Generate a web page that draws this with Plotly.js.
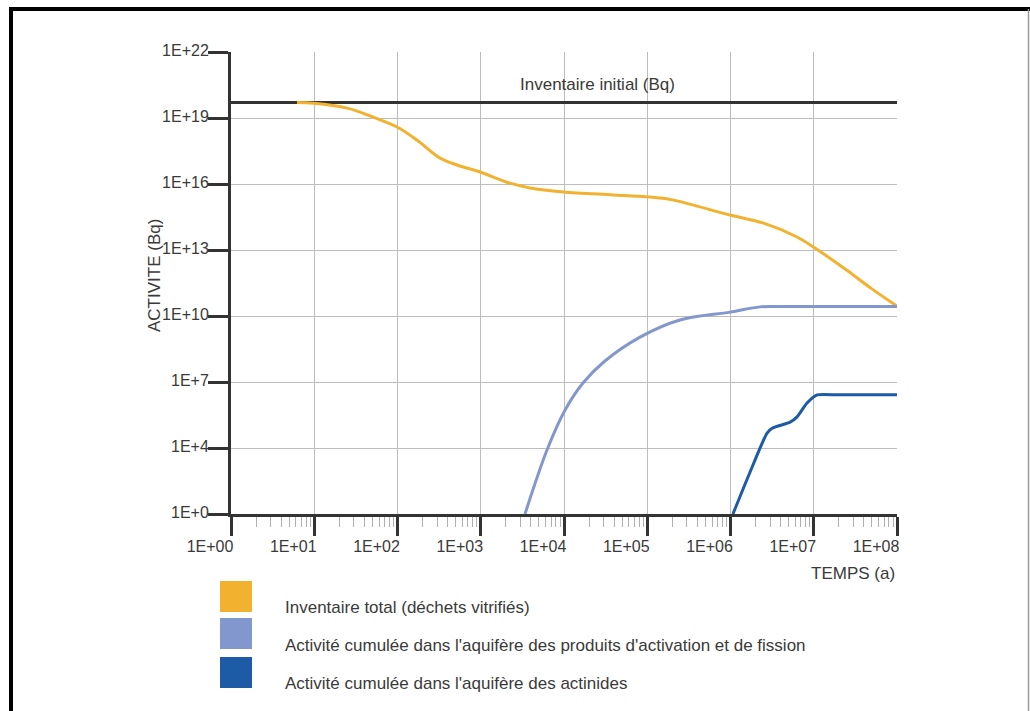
<!DOCTYPE html>
<html>
<head>
<meta charset="utf-8">
<script src="https://cdn.plot.ly/plotly-3.0.1.min.js"></script>
<style>
  html, body { margin: 0; padding: 0; background: #fff; }
  #chart { width: 1030px; height: 711px; }
</style>
</head>
<body>
<div id="chart"></div>
<script>
// Temps (années) et activité (Bq) de chaque courbe
const tempsInventaire = [6.2, 10, 25, 51, 99, 171, 325, 520, 980, 2070, 3900, 9800, 3.9e4, 1e5, 2e5, 9.8e5, 2.45e6, 6.3e6, 9.8e6, 2.5e7, 4.8e7, 1e8];
const activiteInventaire = [5.0e19, 4.7e19, 2.8e19, 1.1e19, 3.9e18, 1e18, 1.5e17, 7.3e16, 3.5e16, 1.2e16, 6.6e15, 4.3e15, 3.2e15, 2.6e15, 1.9e15, 3.9e14, 1.7e14, 3.9e13, 1.4e13, 1.2e12, 1.9e11, 2.8e10];

const tempsProduits = [3400, 6250, 1.03e4, 1.69e4, 3.1e4, 8.2e4, 2.47e5, 9.9e5, 2.26e6, 4e6, 1e8];
const activiteProduits = [10, 8.1e3, 5.3e5, 9.0e6, 9.0e7, 1.1e9, 6.6e9, 1.5e10, 2.6e10, 2.7e10, 2.7e10];

const tempsActinides = [1.07e6, 1.7e6, 2.75e6, 3.2e6, 5.2e6, 6.3e6, 8.3e6, 1.1e7, 2e7, 1e8];
const activiteActinides = [10, 7.3e2, 4.8e4, 8.1e4, 1.5e5, 2.6e5, 1.1e6, 2.6e6, 2.6e6, 2.6e6];

const tempsInitial = [1, 1e8];
const activiteInitial = [5.1e19, 5.1e19];

const seriesNames = [
  "Inventaire total (déchets vitrifiés)",
  "Activité cumulée dans l'aquifère des produits d'activation et de fission",
  "Activité cumulée dans l'aquifère des actinides"
];
const seriesColors = ["#F2B22F", "#8297CD", "#1D5BA7"];

const xTickVals = [1, 10, 1e2, 1e3, 1e4, 1e5, 1e6, 1e7, 1e8];
const xTickText = ["1E+00", "1E+01", "1E+02", "1E+03", "1E+04", "1E+05", "1E+06", "1E+07", "1E+08"];
const yTickVals = [10, 1e4, 1e7, 1e10, 1e13, 1e16, 1e19, 1e22];
const yTickText = ["1E+0", "1E+4", "1E+7", "1E+10", "1E+13", "1E+16", "1E+19", "1E+22"];

// minor ticks 2..9 within each decade
const xMinor = [];
for (let d = 0; d < 8; d++) {
  for (let k = 2; k <= 9; k++) xMinor.push(k * Math.pow(10, d));
}

const W = 1030, H = 711;
const M = { l: 231, r: 133, t: 52, b: 197 };
const PW = W - M.l - M.r, PH = H - M.t - M.b;
const px = v => (v - M.l) / PW;          // pixel x -> paper
const py = v => (H - M.b - v) / PH;      // pixel y -> paper

const tickFont = { family: "Liberation Sans, Arial, sans-serif", size: 16, color: "#3a3a3a" };
const textFont = { family: "Liberation Sans, Arial, sans-serif", size: 17, color: "#3a3a3a" };

const lineTrace = (x, y, color, name, smoothing) => ({
  x, y, name, type: "scatter", mode: "lines",
  line: { color, width: 3, shape: "spline", smoothing },
  hoverinfo: "x+y+name"
});

const data = [
  { x: tempsInitial, y: activiteInitial, type: "scatter", mode: "lines",
    line: { color: "#333333", width: 3 }, name: "Inventaire initial (Bq)" },
  lineTrace(tempsInventaire, activiteInventaire, seriesColors[0], seriesNames[0], 0.9),
  lineTrace(tempsProduits, activiteProduits, seriesColors[1], seriesNames[1], 1),
  lineTrace(tempsActinides, activiteActinides, seriesColors[2], seriesNames[2], 0.6)
];

const shapes = [];
const annotations = [];

// swatches and labels of the key under the plot
const swatchTop = [581, 618, 657];
const labelY = [607, 645, 683];
seriesNames.forEach((n, i) => {
  shapes.push({ type: "rect", xref: "paper", yref: "paper",
    x0: px(220), x1: px(252), y0: py(swatchTop[i]), y1: py(swatchTop[i] + 31),
    fillcolor: seriesColors[i], line: { width: 0 } });
  annotations.push({ xref: "paper", yref: "paper", x: px(283), y: py(labelY[i]),
    xanchor: "left", yanchor: "middle", text: n, showarrow: false, font: textFont });
});

// page frame
shapes.push({ type: "line", xref: "paper", yref: "paper", x0: px(9), x1: px(1030), y0: py(9), y1: py(9), line: { color: "#000", width: 4 } });
shapes.push({ type: "line", xref: "paper", yref: "paper", x0: px(11), x1: px(11), y0: py(7), y1: py(711), line: { color: "#000", width: 4 } });
shapes.push({ type: "line", xref: "paper", yref: "paper", x0: px(1028.5), x1: px(1028.5), y0: py(9), y1: py(711), line: { color: "#9a9a9a", width: 1.5 } });

annotations.push({ xref: "x", yref: "y", x: Math.log10(2.5e4), y: Math.log10(activiteInitial[0]),
  yanchor: "bottom", yshift: 6, text: "Inventaire initial (Bq)", showarrow: false, font: textFont });
annotations.push({ xref: "paper", yref: "paper", x: 1, y: py(573), xanchor: "right", yanchor: "middle",
  text: "TEMPS (a)", showarrow: false, font: textFont });
annotations.push({ xref: "paper", yref: "paper", x: px(154), y: py(276), xanchor: "center", yanchor: "middle",
  textangle: -90, text: "ACTIVITE (Bq)", showarrow: false, font: textFont });

const layout = {
  width: W, height: H,
  margin: M,
  paper_bgcolor: "#ffffff",
  plot_bgcolor: "#ffffff",
  showlegend: false,
  font: tickFont,
  xaxis: {
    type: "log", range: [0, 8],
    tickmode: "array", tickvals: xTickVals, ticktext: xTickText,
    ticks: "outside", ticklen: 19, tickwidth: 3, tickcolor: "#333",
    ticklabelshift: -21, ticklabelstandoff: -3,
    showgrid: true, gridcolor: "#bdbdbd", gridwidth: 1,
    showline: true, linecolor: "#333", linewidth: 3,
    zeroline: false,
    minor: { tickmode: "array", tickvals: xMinor, ticks: "outside", ticklen: 10,
             tickwidth: 1, tickcolor: "#b0b0b0", showgrid: false },
    tickfont: tickFont
  },
  yaxis: {
    type: "log", range: [1, 22],
    tickmode: "array", tickvals: yTickVals, ticktext: yTickText,
    ticks: "outside", ticklen: 20, tickwidth: 3, tickcolor: "#333",
    ticklabelshift: -2, ticklabelstandoff: -4,
    showgrid: true, gridcolor: "#bdbdbd", gridwidth: 1,
    showline: true, linecolor: "#333", linewidth: 3,
    zeroline: false,
    tickfont: tickFont
  },
  shapes, annotations
};

Plotly.newPlot("chart", data, layout, { displayModeBar: false, staticPlot: true });
</script>
</body>
</html>
